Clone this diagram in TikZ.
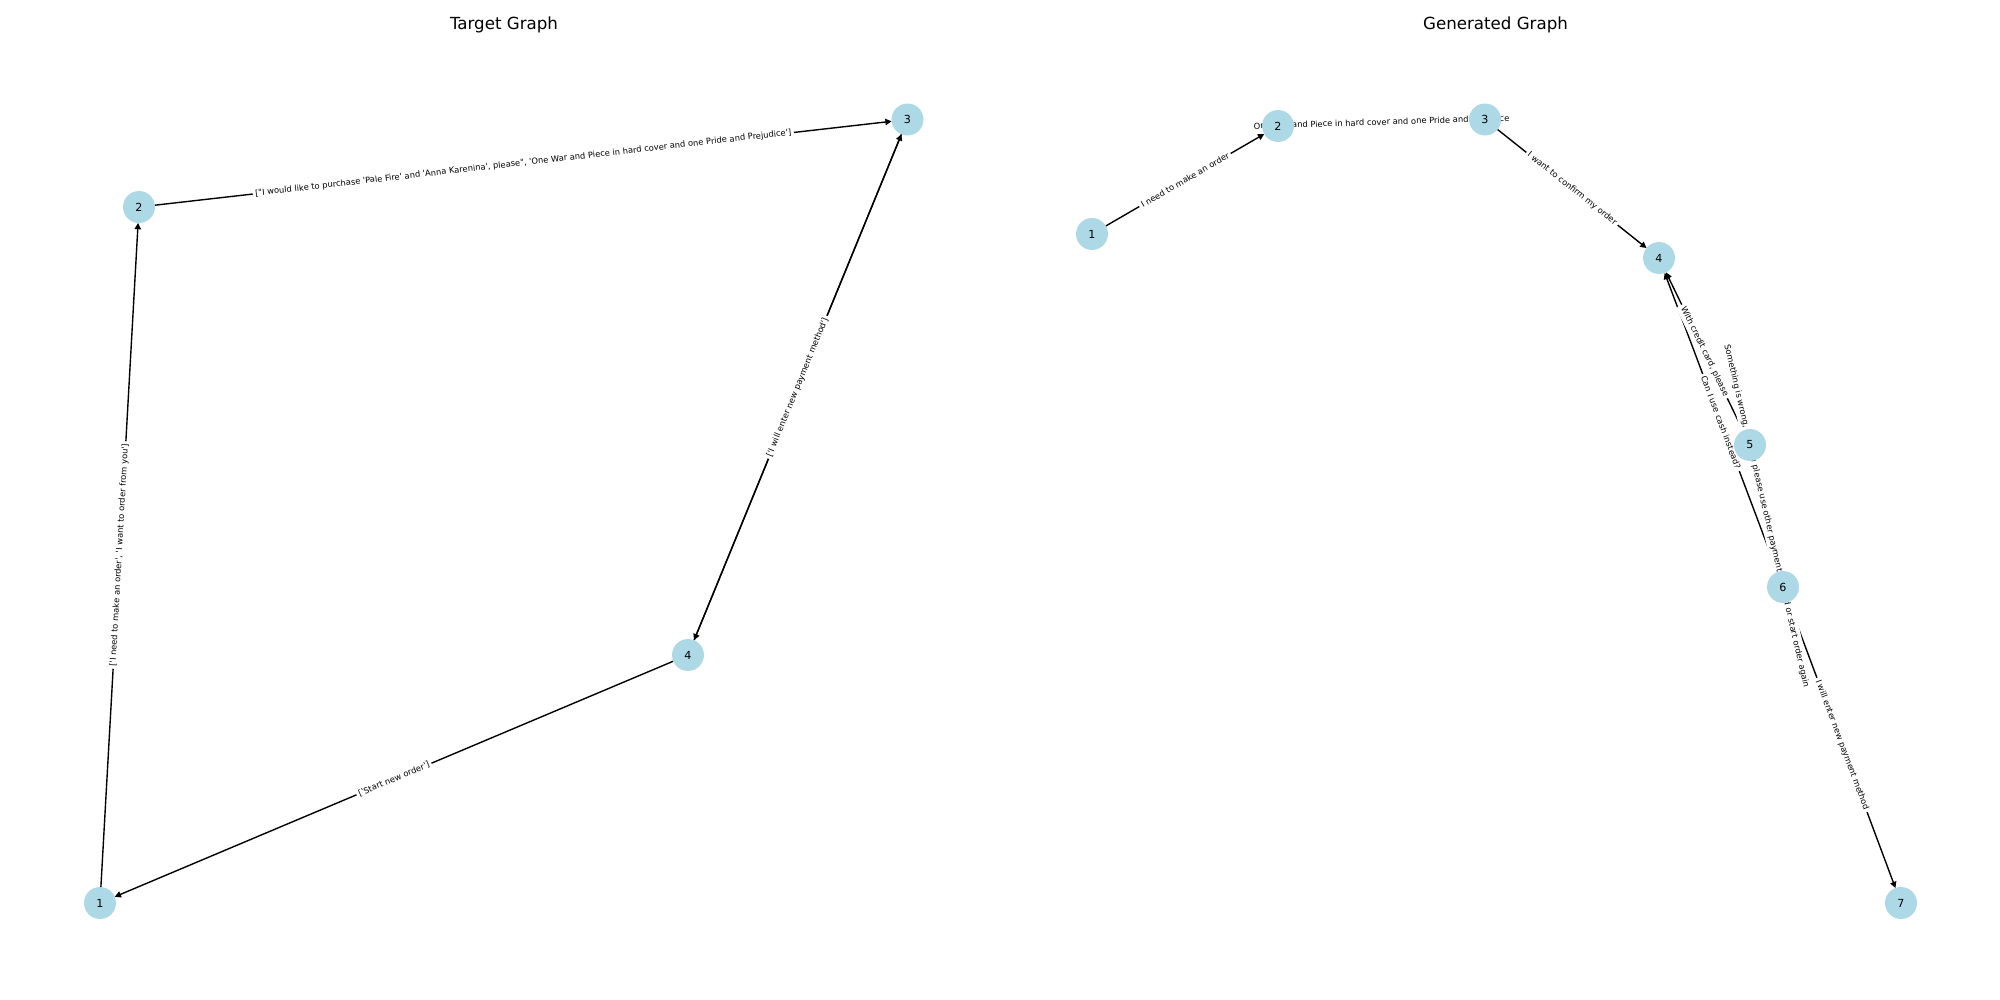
\documentclass[tikz,border=0pt]{standalone}
\usepackage{fontspec}
\setmainfont{DejaVu Sans}[Ligatures=TeXOff]
\usetikzlibrary{arrows.meta}
\pgfdeclarelayer{edgelayer}
\pgfdeclarelayer{labellayer}
\pgfsetlayers{edgelayer,labellayer,main}
\definecolor{nodeblue}{HTML}{ADD8E6}
\tikzset{
  vert/.style={circle, fill=nodeblue, minimum size=23pt, inner sep=0pt, outer sep=0pt, font=\fontsize{8}{9}\selectfont},
  conn/.style={draw=black, line width=1pt, -{Triangle[length=4.5pt,width=4.5pt]}},
  lbl/.style={fill=white, rounded corners=1.5pt, inner sep=1.8pt, sloped, font=\fontsize{6}{7}\selectfont},
  ttl/.style={anchor=base, font=\fontsize{12}{14}\selectfont}
}
\begin{document}
\begin{tikzpicture}[x=0.72pt, y=-0.72pt]
\useasboundingbox (0,0) rectangle (2000,1000);
\begin{pgfonlayer}{edgelayer}
\fill[white] (0,0) rectangle (2000,1000);
\end{pgfonlayer}
% titles
\node[ttl] (t1) at (504,29.3) {Target Graph};
\node[ttl] (t2) at (1495.5,29.3) {Generated Graph};
% left graph nodes
\node[vert] (l1) at (100,903) {1};
\node[vert] (l2) at (139,207) {2};
\node[vert] (l3) at (907.5,119.5) {3};
\node[vert] (l4) at (688,655) {4};
% right graph nodes
\node[vert] (r1) at (1092,234) {1};
\node[vert] (r2) at (1278,126) {2};
\node[vert] (r3) at (1485,119.5) {3};
\node[vert] (r4) at (1659,258) {4};
\node[vert] (r5) at (1750,445) {5};
\node[vert] (r6) at (1783,587) {6};
\node[vert] (r7) at (1901,903) {7};
\begin{pgfonlayer}{edgelayer}
\draw[conn] (l1) -- (l2);
\draw[conn] (l2) -- (l3);
\draw[conn] (l3) -- (l4);
\draw[conn] (l4) -- (l3);
\draw[conn] (l4) -- (l1);
\draw[conn] (r1) -- (r2);
\draw[conn] (r2) -- (r3);
\draw[conn] (r3) -- (r4);
\draw[conn] (r5) -- (r4);
\draw[conn] (r6) -- (r4);
\draw[conn] (r5) -- (r6);
\draw[conn] (r6) -- (r7);
\end{pgfonlayer}
\begin{pgfonlayer}{labellayer}
\path (l1.center) -- node[lbl] {['I need to make an order', 'I want to order from you']} (l2.center);
\path (l2.center) -- node[lbl] {["I would like to purchase 'Pale Fire' and 'Anna Karenina', please", 'One War and Piece in hard cover and one Pride and Prejudice']} (l3.center);
\path (l4.center) -- node[lbl] {['I will enter new payment method']} (l3.center);
\path (l4.center) -- node[lbl] {['Start new order']} (l1.center);
\path (r1.center) -- node[lbl] {I need to make an order} (r2.center);
\path (r2.center) -- node[lbl] {One War and Piece in hard cover and one Pride and Prejudice} (r3.center);
\path (r3.center) -- node[lbl] {I want to confirm my order} (r4.center);
\path (r5.center) -- node[lbl] {With credit card, please} (r4.center);
\path (r6.center) -- node[lbl] {Can I use cash instead?} (r4.center);
\path (r5.center) -- node[lbl] {Something is wrong, can you please use other payment method or start order again} (r6.center);
\path (r6.center) -- node[lbl] {I will enter new payment method} (r7.center);
\end{pgfonlayer}
\end{tikzpicture}
\end{document}
